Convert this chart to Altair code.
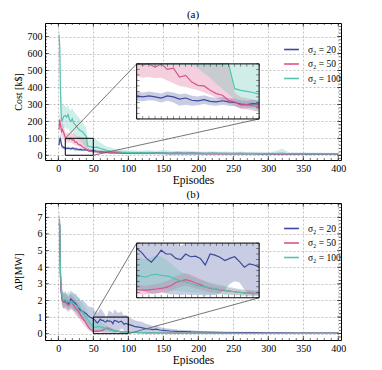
import altair as alt
import pandas as pd

FONT = "Liberation Serif"
SERIES = ["σ₂ = 20", "σ₂ = 50", "σ₂ = 100"]
COLORS = ["#3d4a9b", "#d6568a", "#55c1b1"]

# ---------------- panel (a): cost ----------------
EP_A = [1, 2, 3, 4, 5, 6, 8, 10, 12, 14, 16, 18, 20, 22, 24, 26, 28, 30, 32, 34, 36, 38, 40, 42, 44, 46, 48, 50,
        55, 60, 65, 70, 75, 80, 90, 100, 110, 120, 130, 140, 150, 160, 170, 180, 190, 200, 210, 220, 230, 240,
        250, 260, 270, 280, 290, 300, 310, 320, 330, 340, 350, 360, 370, 380, 390, 400]

A20_MEAN = [60, 95, 100, 75, 55, 50, 45, 42, 40, 42, 40, 38, 42, 40, 36, 38, 34, 33, 35, 32, 31, 33, 31, 30, 27, 26, 28, 27,
            22, 20, 18, 17, 16, 15, 14, 13, 12, 12, 11, 12, 11, 10, 11, 10, 11, 10, 10, 9, 10, 9,
            9, 10, 9, 9, 8, 9, 8, 8, 8, 8, 8, 7, 8, 7, 7, 7]
A20_LO = [45, 70, 75, 55, 40, 38, 35, 33, 32, 34, 33, 30, 33, 30, 24, 26, 24, 25, 27, 25, 24, 26, 24, 23, 20, 19, 21, 20,
          16, 14, 12, 11, 10, 10, 9, 8, 7, 7, 6, 7, 6, 5, 6, 5, 6, 5, 5, 4, 5, 4,
          4, 5, 4, 4, 3, 4, 3, 3, 3, 3, 3, 2, 3, 2, 2, 2]
A20_HI = [75, 120, 125, 95, 70, 62, 55, 50, 48, 50, 48, 46, 50, 48, 45, 46, 42, 41, 43, 40, 38, 40, 38, 37, 34, 33, 35, 34,
          30, 28, 26, 25, 24, 22, 20, 19, 18, 20, 17, 19, 18, 16, 20, 16, 18, 15, 16, 14, 16, 15,
          14, 17, 14, 15, 13, 14, 13, 13, 14, 13, 12, 12, 13, 12, 11, 11]

A50_MEAN = [150, 210, 180, 160, 140, 150, 130, 105, 98, 100, 94, 100, 90, 92, 76, 79, 67, 61, 60, 52, 46, 43, 34, 31, 25, 26, 24, 23,
            21, 19, 18, 17, 16, 15, 14, 14, 13, 12, 13, 12, 12, 11, 12, 11, 12, 11, 10, 11, 10, 10,
            10, 9, 10, 9, 9, 9, 9, 8, 8, 8, 8, 8, 7, 7, 7, 7]
A50_LO = [110, 160, 140, 125, 105, 110, 95, 78, 75, 76, 74, 75, 70, 65, 60, 58, 55, 52, 48, 44, 38, 35, 28, 24, 18, 17, 15, 13,
          12, 11, 10, 10, 9, 9, 8, 8, 7, 6, 7, 6, 6, 5, 6, 5, 6, 5, 4, 5, 4, 4,
          4, 3, 4, 3, 3, 3, 3, 2, 2, 2, 2, 2, 2, 2, 2, 2]
A50_HI = [190, 250, 225, 200, 180, 190, 170, 135, 130, 135, 128, 135, 125, 130, 120, 115, 112, 110, 108, 105, 102, 100, 95, 48, 40, 38, 35, 32,
          30, 28, 27, 26, 24, 23, 21, 22, 20, 19, 22, 19, 20, 18, 24, 18, 22, 18, 16, 19, 16, 16,
          17, 15, 17, 15, 15, 15, 16, 14, 14, 13, 13, 14, 12, 12, 12, 12]

A100_MEAN = [710, 650, 400, 250, 200, 210, 230, 235, 225, 240, 210, 200, 215, 190, 180, 170, 160, 150, 145, 140, 130, 120, 110, 55, 52, 50, 48, 45,
             48, 40, 35, 28, 25, 22, 18, 16, 15, 14, 15, 13, 14, 13, 12, 13, 12, 12, 11, 12, 11, 11,
             10, 11, 10, 10, 10, 9, 10, 12, 9, 9, 9, 8, 8, 8, 8, 8]
A100_LO = [600, 540, 300, 180, 140, 150, 160, 165, 150, 160, 140, 130, 135, 120, 115, 108, 100, 92, 83, 75, 64, 55, 45, 36, 28, 22, 17, 13,
           15, 14, 12, 10, 9, 8, 7, 6, 5, 5, 5, 4, 5, 4, 4, 4, 4, 4, 3, 4, 3, 3,
           3, 3, 3, 3, 3, 2, 3, 3, 2, 2, 2, 2, 2, 2, 2, 2]
A100_HI = [740, 730, 560, 380, 300, 300, 300, 290, 280, 300, 270, 265, 280, 260, 250, 240, 230, 220, 210, 200, 185, 175, 160, 110, 105, 102, 100, 100,
           90, 75, 62, 50, 45, 40, 32, 30, 28, 26, 30, 25, 32, 26, 24, 28, 22, 24, 20, 24, 20, 22,
           19, 22, 19, 20, 20, 18, 24, 38, 18, 18, 17, 16, 16, 15, 15, 14]

# ---------------- panel (b): power deviation ----------------
EP_B = [1, 2, 3, 4, 5, 6, 8, 10, 12, 15, 18, 20, 22, 25, 28, 30, 32, 35, 38, 40, 42, 45, 48,
        50, 52, 54, 56, 58, 60, 62, 64, 66, 68, 70, 72, 74, 76, 78, 80, 82, 84, 86, 88, 90, 92, 94, 96, 98, 100,
        105, 110, 115, 120, 125, 130, 135, 140, 145, 150,
        160, 170, 180, 190, 200,
        220, 240, 260, 280, 300, 320, 340, 360, 380, 400]

B20_MEAN = [6.5, 6.6, 3.5, 2.6, 2.2, 2.0, 1.9, 2.0, 1.9, 1.8, 2.1, 2.0, 1.9, 1.8, 1.6, 1.5, 1.4, 1.35, 1.25, 1.2, 1.1, 1.0, 0.95,
            0.9, 0.83, 0.72, 0.65, 0.75, 0.87, 0.8, 0.8, 0.72, 0.7, 0.8, 0.75, 0.76, 0.72, 0.6, 0.8, 0.78, 0.74, 0.68, 0.72, 0.75, 0.66, 0.56, 0.62, 0.6, 0.56,
            0.5, 0.42, 0.4, 0.35, 0.3, 0.28, 0.25, 0.27, 0.22, 0.2,
            0.16, 0.14, 0.13, 0.11, 0.1,
            0.08, 0.07, 0.06, 0.06, 0.05, 0.05, 0.04, 0.04, 0.03, 0.03]
B20_LO = [5.5, 5.8, 2.8, 2.1, 1.8, 1.6, 1.5, 1.6, 1.5, 1.4, 1.6, 1.5, 1.4, 1.3, 1.1, 1.0, 0.9, 0.8, 0.7, 0.6, 0.5, 0.4, 0.3,
          0.2, 0.15, 0.1, 0.08, 0.08, 0.1, 0.08, 0.06, 0.06, 0.05, 0.06, 0.05, 0.05, 0.05, 0.04, 0.05, 0.05, 0.08, 0.15, 0.25, 0.3, 0.28, 0.15, 0.06, 0.05, 0.05,
          0.04, 0.03, 0.03, 0.03, 0.02, 0.02, 0.02, 0.02, 0.02, 0.02,
          0.01, 0.01, 0.01, 0.01, 0.01,
          0, 0, 0, 0, 0, 0, 0, 0, 0, 0]
B20_HI = [7.0, 7.0, 4.5, 3.2, 2.7, 2.5, 2.4, 2.5, 2.4, 2.3, 2.6, 2.5, 2.4, 2.4, 2.2, 2.1, 2.0, 2.0, 1.9, 1.8, 1.7, 1.6, 1.6,
          1.5, 1.4, 1.3, 1.25, 1.35, 1.5, 1.45, 1.3, 1.2, 0.95, 1.1, 1.4, 1.35, 1.3, 1.2, 1.45, 1.4, 1.3, 1.25, 1.3, 1.35, 1.2, 1.1, 1.15, 1.1, 1.0,
          0.9, 0.8, 0.75, 0.7, 0.6, 0.55, 0.45, 0.5, 0.4, 0.35,
          0.3, 0.25, 0.22, 0.2, 0.18,
          0.15, 0.13, 0.12, 0.11, 0.1, 0.09, 0.08, 0.08, 0.07, 0.07]

B50_MEAN = [6.7, 6.5, 3.6, 2.8, 2.3, 2.0, 1.9, 1.9, 1.8, 1.7, 1.9, 1.8, 1.7, 1.5, 1.4, 1.3, 1.1, 0.9, 0.75, 0.6, 0.45, 0.3, 0.2,
            0.15, 0.14, 0.14, 0.15, 0.16, 0.17, 0.19, 0.22, 0.28, 0.31, 0.33, 0.31, 0.27, 0.24, 0.2, 0.17, 0.16, 0.14, 0.13, 0.12, 0.11, 0.1, 0.09, 0.09, 0.08, 0.08,
            0.07, 0.07, 0.06, 0.06, 0.05, 0.05, 0.05, 0.04, 0.04, 0.04,
            0.04, 0.03, 0.03, 0.03, 0.03,
            0.03, 0.02, 0.02, 0.02, 0.02, 0.02, 0.02, 0.02, 0.02, 0.02]
B50_LO = [5.8, 5.6, 2.9, 2.2, 1.8, 1.6, 1.5, 1.5, 1.4, 1.3, 1.5, 1.4, 1.3, 1.1, 1.0, 0.9, 0.75, 0.6, 0.45, 0.35, 0.25, 0.15, 0.1,
          0.07, 0.06, 0.06, 0.07, 0.08, 0.09, 0.1, 0.12, 0.17, 0.2, 0.22, 0.2, 0.17, 0.15, 0.12, 0.1, 0.09, 0.08, 0.07, 0.06, 0.05, 0.05, 0.04, 0.04, 0.04, 0.04,
          0.03, 0.03, 0.03, 0.03, 0.02, 0.02, 0.02, 0.02, 0.02, 0.02,
          0.01, 0.01, 0.01, 0.01, 0.01,
          0.01, 0.01, 0.01, 0, 0, 0, 0, 0, 0, 0]
B50_HI = [7.2, 7.0, 4.4, 3.4, 2.8, 2.5, 2.4, 2.4, 2.3, 2.2, 2.4, 2.3, 2.2, 2.0, 1.9, 1.8, 1.6, 1.3, 1.1, 0.9, 0.7, 0.5, 0.35,
          0.25, 0.23, 0.22, 0.24, 0.25, 0.27, 0.3, 0.34, 0.4, 0.43, 0.45, 0.42, 0.38, 0.34, 0.3, 0.26, 0.24, 0.22, 0.2, 0.18, 0.17, 0.15, 0.14, 0.14, 0.13, 0.13,
          0.12, 0.11, 0.1, 0.1, 0.09, 0.09, 0.08, 0.08, 0.08, 0.07,
          0.07, 0.06, 0.06, 0.05, 0.05,
          0.05, 0.05, 0.04, 0.04, 0.04, 0.05, 0.04, 0.04, 0.04, 0.04]

B100_MEAN = [6.9, 6.8, 4.0, 3.0, 2.4, 2.1, 2.0, 2.1, 1.9, 2.0, 1.8, 1.9, 1.8, 1.7, 1.6, 1.6, 1.5, 1.3, 1.1, 1.0, 0.85, 0.65, 0.5,
             0.41, 0.39, 0.38, 0.42, 0.43, 0.41, 0.40, 0.38, 0.34, 0.31, 0.29, 0.26, 0.23, 0.21, 0.2, 0.18, 0.17, 0.15, 0.14, 0.12, 0.11, 0.1, 0.09, 0.08, 0.08, 0.08,
             0.07, 0.07, 0.06, 0.06, 0.06, 0.05, 0.05, 0.05, 0.05, 0.04,
             0.04, 0.04, 0.03, 0.03, 0.03,
             0.03, 0.03, 0.02, 0.02, 0.02, 0.02, 0.02, 0.02, 0.02, 0.02]
B100_LO = [6.0, 5.9, 3.2, 2.4, 1.9, 1.7, 1.6, 1.7, 1.5, 1.6, 1.4, 1.5, 1.4, 1.3, 1.2, 1.2, 1.1, 0.9, 0.7, 0.6, 0.45, 0.3, 0.2,
           0.15, 0.14, 0.14, 0.16, 0.17, 0.16, 0.15, 0.14, 0.13, 0.12, 0.11, 0.1, 0.09, 0.08, 0.07, 0.07, 0.06, 0.06, 0.05, 0.05, 0.04, 0.04, 0.04, 0.03, 0.03, 0.03,
           0.03, 0.03, 0.02, 0.02, 0.02, 0.02, 0.02, 0.02, 0.02, 0.01,
           0.01, 0.01, 0.01, 0.01, 0.01,
           0.01, 0.01, 0, 0, 0, 0, 0, 0, 0, 0]
B100_HI = [7.4, 7.3, 5.0, 3.8, 3.0, 2.6, 2.5, 2.6, 2.4, 2.6, 2.3, 2.5, 2.4, 2.3, 2.2, 2.2, 2.0, 1.8, 1.6, 1.5, 1.3, 1.1, 0.9,
           0.75, 0.72, 0.7, 0.74, 0.78, 0.75, 0.7, 0.62, 0.55, 0.48, 0.44, 0.4, 0.36, 0.33, 0.3, 0.28, 0.26, 0.24, 0.22, 0.2, 0.18, 0.16, 0.15, 0.14, 0.13, 0.13,
           0.12, 0.14, 0.11, 0.1, 0.12, 0.1, 0.09, 0.1, 0.09, 0.08,
           0.08, 0.07, 0.07, 0.06, 0.06,
           0.06, 0.06, 0.05, 0.05, 0.05, 0.06, 0.05, 0.07, 0.05, 0.05]

# ---------------- axes / zoom settings ----------------
X_DOMAIN = [-19, 404]
X_TICKS = [0, 50, 100, 150, 200, 250, 300, 350, 400]
X_MINOR = list(range(-10, 405, 10))

A_Y_DOMAIN = [-28, 780]
A_Y_TICKS = [0, 100, 200, 300, 400, 500, 600, 700]
A_Y_MINOR = list(range(-20, 781, 20))
A_ZOOM = [10, 50, 0, 100]
A_INSET = [112, 287, 214, 539]
A_IN_XT = list(range(10, 51, 2))
A_IN_YT = list(range(0, 101, 10))

B_Y_DOMAIN = [-0.38, 7.86]
B_Y_TICKS = [0, 1, 2, 3, 4, 5, 6, 7]
B_Y_MINOR = [round(-0.2 + 0.2 * i, 2) for i in range(41)]
B_ZOOM = [50, 100, 0, 1]
B_INSET = [112, 287, 2.16, 5.45]
B_IN_XT = [50, 52.5, 55, 57.5, 60, 62.5, 65, 67.5, 70, 72.5, 75, 77.5, 80, 82.5, 85, 87.5, 90, 92.5, 95, 97.5, 100]
B_IN_YT = [0, 0.1, 0.2, 0.3, 0.4, 0.5, 0.6, 0.7, 0.8, 0.9, 1.0]

W, H = 296, 137


def long_df(ep, sets):
    rows = []
    for name, (m, lo, hi) in zip(SERIES, sets):
        for e, a, b, c in zip(ep, m, lo, hi):
            rows.append(dict(ep=e, series=name, mean=a, lo=b, hi=c))
    return pd.DataFrame(rows)


def panel(df, title, ytitle, ydom, yticks, yminor, zoom, inset, in_xt, in_yt, legend_y):
    xs = alt.Scale(domain=X_DOMAIN, nice=False, zero=False)
    ys = alt.Scale(domain=ydom, nice=False, zero=False)
    xaxis = alt.Axis(values=X_TICKS, title="Episodes", titleFontSize=11.5, titlePadding=1, labelFlush=False)
    yaxis = alt.Axis(values=yticks, title=ytitle, titleFontSize=10, minExtent=19, maxExtent=19,
                     titlePadding=3, labelFlush=False)

    def X(f):
        return alt.X(f, type="quantitative", scale=xs, axis=xaxis)

    def Y(f):
        return alt.Y(f, type="quantitative", scale=ys, axis=yaxis)

    cscale = alt.Scale(domain=SERIES, range=COLORS)
    col = alt.Color("series:N", scale=cscale, legend=alt.Legend(
        orient="none", legendX=238, legendY=legend_y, title=None, symbolType="stroke",
        symbolStrokeWidth=1.6, symbolSize=220, labelFont=FONT, labelFontSize=9.5, labelColor="black",
        rowPadding=1.5, labelOffset=8, padding=0, symbolOpacity=1))

    base = alt.Chart(df)
    band = base.mark_area(opacity=0.28, clip=True).encode(x=X("ep"), y=Y("lo"), y2="hi", color=col)
    line = base.mark_line(strokeWidth=1.2, clip=True).encode(x=X("ep"), y=Y("mean"), color=col)

    x0, x1, y0, y1 = zoom
    X0, X1, Y0, Y1 = inset
    sx = (X1 - X0) / (x1 - x0)
    sy = (Y1 - Y0) / (y1 - y0)
    zdf = pd.DataFrame([dict(a=x0, b=x1, c=y0, d=y1)])
    zrect = alt.Chart(zdf).mark_rect(fill="transparent", stroke="black", strokeWidth=1).encode(
        x=X("a"), x2="b", y=Y("c"), y2="d")
    cdf = pd.DataFrame([dict(a=x0, c=y1, b=X0, d=Y1), dict(a=x1, c=y0, b=X1, d=Y0)])
    conn = alt.Chart(cdf).mark_rule(color="#666666", strokeWidth=0.9).encode(
        x=X("a"), y=Y("c"), x2="b", y2="d")
    idf = pd.DataFrame([dict(a=X0, b=X1, c=Y0, d=Y1)])
    ibg = alt.Chart(idf).mark_rect(fill="white").encode(x=X("a"), x2="b", y=Y("c"), y2="d")
    iborder = alt.Chart(idf).mark_rect(fill="transparent", stroke="black", strokeWidth=1).encode(
        x=X("a"), x2="b", y=Y("c"), y2="d")

    ibase = base.transform_filter(f"datum.ep >= {x0} && datum.ep <= {x1}").transform_calculate(
        ix=f"{X0} + (datum.ep - {x0}) * {sx}",
        im=f"{Y0} + (clamp(datum.mean, {y0}, {y1}) - {y0}) * {sy}",
        ilo=f"{Y0} + (clamp(datum.lo, {y0}, {y1}) - {y0}) * {sy}",
        ihi=f"{Y0} + (clamp(datum.hi, {y0}, {y1}) - {y0}) * {sy}",
    )
    iband = ibase.mark_area(opacity=0.28).encode(x=X("ix"), y=Y("ilo"), y2="ihi", color=col)
    iline = ibase.mark_line(strokeWidth=1.2).encode(x=X("ix"), y=Y("im"), color=col)

    # inset inward ticks
    ixt = alt.Chart(pd.DataFrame({"t": in_xt})).transform_calculate(
        p=f"{X0} + (datum.t - {x0}) * {sx}", lo=f"{Y0}", hi=f"{Y1}")
    iyt = alt.Chart(pd.DataFrame({"t": in_yt})).transform_calculate(
        p=f"{Y0} + (datum.t - {y0}) * {sy}", lo=f"{X0}", hi=f"{X1}")
    tk = dict(thickness=0.6, color="black", size=3)
    inset_ticks = [
        ixt.mark_tick(orient="vertical", yOffset=-1.5, **tk).encode(x=X("p"), y=Y("lo")),
        ixt.mark_tick(orient="vertical", yOffset=1.5, **tk).encode(x=X("p"), y=Y("hi")),
        iyt.mark_tick(orient="horizontal", xOffset=1.5, **tk).encode(y=Y("p"), x=X("lo")),
        iyt.mark_tick(orient="horizontal", xOffset=-1.5, **tk).encode(y=Y("p"), x=X("hi")),
    ]

    # inward frame ticks
    def xt(vals, size, ypos):
        return alt.Chart(pd.DataFrame({"t": vals})).mark_tick(
            orient="vertical", size=size, thickness=0.8, color="black", clip=True).encode(
            x=X("t"), y=alt.value(ypos))

    def yt(vals, size, xpos):
        return alt.Chart(pd.DataFrame({"t": vals})).mark_tick(
            orient="horizontal", size=size, thickness=0.8, color="black", clip=True).encode(
            y=Y("t"), x=alt.value(xpos))

    ticks = [xt(X_TICKS, 8, H), xt(X_MINOR, 4, H), xt(X_TICKS, 8, 0), xt(X_MINOR, 4, 0),
             yt(yticks, 8, 0), yt(yminor, 4, 0), yt(yticks, 8, W), yt(yminor, 4, W)]

    return alt.layer(band, line, zrect, conn, ibg, iband, iline, *inset_ticks, iborder, *ticks).properties(
        width=W, height=H,
        title=alt.TitleParams(title, font=FONT, fontSize=11, fontWeight="normal", offset=3, color="black"))


dfa = long_df(EP_A, [(A20_MEAN, A20_LO, A20_HI), (A50_MEAN, A50_LO, A50_HI), (A100_MEAN, A100_LO, A100_HI)])
dfb = long_df(EP_B, [(B20_MEAN, B20_LO, B20_HI), (B50_MEAN, B50_LO, B50_HI), (B100_MEAN, B100_LO, B100_HI)])

top = panel(dfa, "(a)", "Cost [k$]", A_Y_DOMAIN, A_Y_TICKS, A_Y_MINOR, A_ZOOM, A_INSET, A_IN_XT, A_IN_YT, 18)
bottom = panel(dfb, "(b)", "ΔP[MW]", B_Y_DOMAIN, B_Y_TICKS, B_Y_MINOR, B_ZOOM, B_INSET, B_IN_XT, B_IN_YT, 17)

chart = alt.vconcat(top, bottom, spacing=2).resolve_scale(color="independent").resolve_legend(
    color="independent").properties(
    padding={"left": 4, "top": 0, "right": 5, "bottom": 0}, background="white"
).configure_view(stroke="black", strokeWidth=1).configure_axis(
    labelFont=FONT, labelFontSize=10, titleFont=FONT, titleFontWeight="normal",
    labelColor="black", titleColor="black", grid=True, gridDash=[2, 2], gridColor="#9a9a9a",
    gridWidth=0.6, domain=False, ticks=False, labelPadding=3
)

chart.save("out.html", embed_options={"renderer": "svg", "actions": False})
